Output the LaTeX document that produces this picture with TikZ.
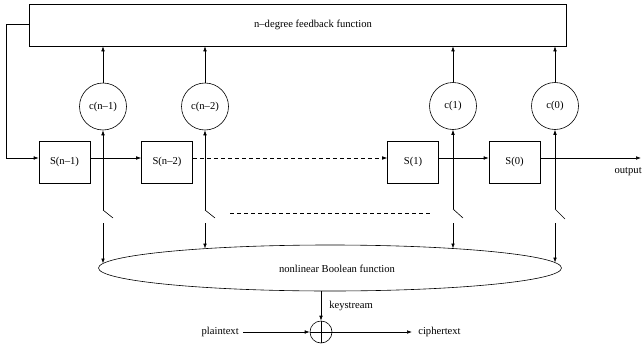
\documentclass[tikz,border=0pt]{standalone}
\usepackage{fontspec}
\setmainfont{Liberation Serif}
\usetikzlibrary{arrows.meta,shapes.geometric}
\begin{document}
\begin{tikzpicture}[x=1pt,y=-1pt,line width=0.6pt,
  every node/.style={font=\fontsize{10.6}{12}\selectfont},
  box/.style={draw,minimum width=51pt,minimum height=42pt,inner sep=0pt},
  coef/.style={draw,circle,minimum size=47pt,inner sep=0pt},
  arr/.style={-{Latex[length=5pt,width=3.6pt]}},
  lbl/.style={inner sep=0pt},
  dsh/.style={dash pattern=on 4pt off 3pt}]
\useasboundingbox (0,0) rectangle (642,348);
% feedback function box
\node[draw,minimum width=537pt,minimum height=42pt,inner sep=0pt] (fb) at (297.5,25) {};
\node[lbl] (fbt) at (313,25) {n–degree feedback function};
% registers
\node[box] (s3) at (64.5,162) {S(n–1)};
\node[box] (s2) at (167,162) {S(n–2)};
\node[box] (s1) at (413,162) {S(1)};
\node[box] (s0) at (514.5,162) {S(0)};
% coefficients
\node[coef] (c3) at (103,106.5) {c(n–1)};
\node[coef] (c2) at (205,106.5) {c(n–2)};
\node[coef] (c1) at (453,106) {c(1)};
\node[coef] (c0) at (555,106) {c(0)};
% nonlinear function
\node[draw,ellipse,minimum width=463pt,minimum height=46pt,inner sep=0pt] (nb) at (330,268) {};
\node[lbl] (nbt) at (337,269) {nonlinear Boolean function};
% xor
\node[draw,circle,minimum size=22pt,inner sep=0pt] (xor) at (321,332) {};
\draw (xor.north) -- (xor.south) (xor.west) -- (xor.east);
\node[lbl,anchor=east] (pt) at (239,332) {plaintext};
\node[lbl,anchor=west] (ct) at (418,332) {ciphertext};
\node[lbl,anchor=west] (ks) at (329,306) {keystream};
\draw[arr] ([xshift=4pt]pt.east) -- (xor.west);
\draw[arr] (xor.east) -- ([xshift=-6pt]ct.west);
\draw[arr] (xor.north |- nb.south) -- (xor.north);
% feedback loop
\coordinate (fbl) at (6,24);
\draw[arr] ([yshift=1pt]fb.west) -- (fbl) |- ([yshift=4pt]s3.west);
% shift chain
\draw[arr] ([yshift=4pt]s3.east) -- ([yshift=4pt]s2.west);
\draw[arr,dsh] ([yshift=4pt]s2.east) -- ([yshift=4pt]s1.west);
\draw[arr] ([yshift=4pt]s1.east) -- ([yshift=4pt]s0.west);
\coordinate (out) at (641,158);
\draw[arr] ([yshift=4pt]s0.east) -- (out);
\node[lbl,anchor=east] (outl) at (642,172) {output};
% taps
\coordinate (p3) at (103,210); \coordinate (q3) at (113,218);
\coordinate (r3) at (103,223); \coordinate (e3) at (103,263.5);
\coordinate (p2) at (205,210); \coordinate (q2) at (215,218);
\coordinate (r2) at (205,223); \coordinate (e2) at (205,248.6);
\coordinate (p1) at (453,209); \coordinate (q1) at (463,218);
\coordinate (r1) at (453,223); \coordinate (e1) at (453,248.5);
\coordinate (p0) at (555,209); \coordinate (q0) at (565,219);
\coordinate (r0) at (555,223); \coordinate (e0) at (555,262.6);
\foreach \i in {3,2,1,0}{
  \draw[arr] (p\i) -- (c\i);
  \draw (p\i) -- (q\i);
  \draw[arr] (r\i) -- (e\i);
  \draw[arr] (c\i) -- (c\i |- fb.south);
}
% dashed middle
\coordinate (d1) at (230,213); \coordinate (d2) at (430,213);
\draw[dsh] (d1) -- (d2);
\end{tikzpicture}
\end{document}
